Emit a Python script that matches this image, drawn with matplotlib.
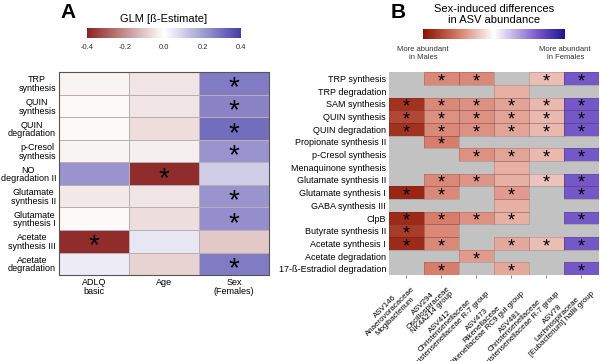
import numpy as np
import matplotlib
matplotlib.use("Agg")
import matplotlib.pyplot as plt
from matplotlib.colors import LinearSegmentedColormap, Normalize
from matplotlib.colorbar import ColorbarBase

plt.rcParams['font.family'] = ['Liberation Sans', 'DejaVu Sans']

# ---- panel A data ----
a_rows = ["TRP\nsynthesis", "QUIN\nsynthesis", "QUIN\ndegradation", "p-Cresol\nsynthesis",
          "NO\ndegradation II", "Glutamate\nsynthesis II", "Glutamate\nsynthesis I",
          "Acetate\nsynthesis III", "Acetate\ndegradation"]
a_cols = ["ADLQ\nbasic", "Age", "Sex\n(Females)"]
a_vals = np.array([
    [-0.02, -0.05, 0.27],
    [-0.01, -0.05, 0.25],
    [-0.01, -0.06, 0.30],
    [-0.02, -0.03, 0.22],
    [0.22, -0.38, 0.10],
    [-0.04, -0.05, 0.22],
    [-0.01, -0.06, 0.23],
    [-0.38, 0.05, -0.10],
    [0.04, -0.08, 0.27],
])
a_sig = np.array([
    [0, 0, 1], [0, 0, 1], [0, 0, 1], [0, 0, 1], [0, 1, 0],
    [0, 0, 1], [0, 0, 1], [1, 0, 0], [0, 0, 1],
])
a_ticks = [-0.4, -0.2, 0.0, 0.2, 0.4]

# ---- panel B data ----
b_rows = ["TRP synthesis", "TRP degradation", "SAM synthesis", "QUIN synthesis",
          "QUIN degradation", "Propionate synthesis II", "p-Cresol synthesis",
          "Menaquinone synthesis", "Glutamate synthesis II", "Glutamate synthesis I",
          "GABA synthesis III", "ClpB", "Butyrate synthesis II", "Acetate synthesis I",
          "Acetate degradation", "17-ß-Estradiol degradation"]
b_cols = ["ASV146\nAnaerovoracaceae\nMogibacterium",
          "ASV294\nOscillospiraceae\nNK4A214 group",
          "ASV412\nChristensenellaceae\nChristensenellaceae R-7 group",
          "ASV473\nRikenellaceae\nRikenellaceae RC9 gut group",
          "ASV481\nChristensenellaceae\nChristensenellaceae R-7 group",
          "ASV78\nLachnospiraceae\n[Eubacterium] hallii group"]
n = np.nan
b_vals = np.array([
    [n, -0.45, -0.45, n, -0.25, 0.62],
    [n, n, n, -0.3, n, n],
    [-0.85, -0.45, -0.42, -0.35, -0.27, 0.62],
    [-0.75, -0.42, -0.42, -0.35, -0.27, 0.62],
    [-0.85, -0.45, -0.42, -0.35, -0.27, 0.62],
    [n, -0.5, n, n, n, n],
    [n, n, -0.42, -0.35, -0.27, 0.62],
    [n, n, n, -0.3, n, n],
    [n, -0.45, -0.4, -0.3, -0.22, 0.62],
    [-0.9, -0.45, n, -0.38, n, 0.62],
    [n, n, n, -0.3, n, n],
    [-0.88, -0.5, -0.42, -0.3, n, 0.62],
    [-0.8, -0.45, n, n, n, n],
    [-0.88, -0.45, n, -0.33, -0.25, 0.62],
    [n, n, -0.38, n, n, n],
    [n, -0.5, n, -0.33, n, 0.62],
])
b_sig = np.array([
    [0, 1, 1, 0, 1, 1],
    [0, 0, 0, 0, 0, 0],
    [1, 1, 1, 1, 1, 1],
    [1, 1, 1, 1, 1, 1],
    [1, 1, 1, 1, 1, 1],
    [0, 1, 0, 0, 0, 0],
    [0, 0, 1, 1, 1, 1],
    [0, 0, 0, 0, 0, 0],
    [0, 1, 1, 0, 1, 1],
    [1, 1, 0, 1, 0, 1],
    [0, 0, 0, 0, 0, 0],
    [1, 1, 1, 1, 0, 1],
    [1, 0, 0, 0, 0, 0],
    [1, 1, 0, 1, 1, 1],
    [0, 0, 1, 0, 0, 0],
    [0, 1, 0, 1, 0, 1],
])

cmap_a = LinearSegmentedColormap.from_list("a", ["#8c2222", "#ffffff", "#463ca6"])
cmap_b = LinearSegmentedColormap.from_list(
    "b", [(0, "#8b1200"), (0.25, "#d67c6a"), (0.5, "#ffffff"), (0.8, "#7a5ccc"), (1, "#1c1490")])


def stars(ax, sig, fs):
    # asterisk glyph sits high in the em box, so drop the baseline below the cell centre
    for r, c in zip(*np.nonzero(sig)):
        ax.annotate("*", (c + 0.5, r + 0.5), xytext=(0, -0.44 * fs), textcoords="offset points",
                    ha="center", va="baseline", fontsize=fs, color="black")


fig = plt.figure(figsize=(6, 3.61), dpi=100)

# ---------------- A ----------------
axA = fig.add_axes([0.098, 0.238, 0.35, 0.562])
normA = Normalize(-0.4, 0.4)
axA.pcolormesh(a_vals, cmap=cmap_a, norm=normA, edgecolors="#b8b0b0", linewidth=0.4)
stars(axA, a_sig, 20)
axA.set_xlim(0, 3); axA.set_ylim(len(a_rows), 0)
axA.set_yticks(np.arange(len(a_rows)) + 0.5)
axA.set_yticklabels(a_rows, fontsize=6.5, linespacing=0.95, multialignment="center")
axA.set_xticks(np.arange(3) + 0.5)
axA.set_xticklabels(a_cols, fontsize=6.5, linespacing=0.95)
axA.tick_params(length=0, pad=2)
for s in axA.spines.values():
    s.set_color("#555555"); s.set_linewidth(0.8)

caxA = fig.add_axes([0.145, 0.8947, 0.257, 0.0277])
cbA = ColorbarBase(caxA, cmap=cmap_a, norm=normA, orientation="horizontal", ticks=a_ticks)
cbA.set_ticklabels([f"{t:.1f}" for t in a_ticks])
cbA.outline.set_visible(False)
caxA.tick_params(labelsize=5.5, length=0, pad=4, colors="#333333")
fig.text(0.273, 0.948, "GLM [ß-Estimate]", fontsize=8, ha="center", va="center")
fig.text(0.113, 0.965, "A", fontsize=15, fontweight="bold", ha="center", va="center")

# ---------------- B ----------------
axB = fig.add_axes([0.648, 0.238, 0.35, 0.562])
axB.set_facecolor("#c2c2c2")
normB = Normalize(-1, 1)
axB.pcolormesh(np.ma.masked_invalid(b_vals), cmap=cmap_b, norm=normB)
for r in range(len(b_rows)):
    for c in range(len(b_cols)):
        if not np.isnan(b_vals[r, c]):
            axB.add_patch(plt.Rectangle((c, r), 1, 1, fill=False, edgecolor=(0.3, 0.1, 0.1, 0.25), linewidth=0.5))
stars(axB, b_sig, 13)
axB.set_xlim(0, 6); axB.set_ylim(len(b_rows), 0)
axB.set_yticks(np.arange(len(b_rows)) + 0.5)
axB.set_yticklabels(b_rows, fontsize=6.5)
axB.set_xticks(np.arange(6) + 0.5)
axB.set_xticklabels(b_cols, fontsize=5.7, rotation=45, ha="right", rotation_mode="anchor",
                    multialignment="center", linespacing=0.95)
axB.tick_params(axis="y", length=0, pad=2)
axB.tick_params(axis="x", length=2, width=0.5, color="#555555", pad=2)
for s in axB.spines.values():
    s.set_visible(False)

caxB = fig.add_axes([0.705, 0.892, 0.237, 0.0277])
cbB = ColorbarBase(caxB, cmap=cmap_b, norm=normB, orientation="horizontal", ticks=[])
cbB.outline.set_visible(False)
fig.text(0.823, 0.96, "Sex-induced differences\nin ASV abundance", fontsize=8,
         ha="center", va="center", linespacing=1.1)
fig.text(0.705, 0.872, "More abundant\nin Males", fontsize=5.5, ha="center", va="top", color="#333333")
fig.text(0.942, 0.872, "More abundant\nin Females", fontsize=5.5, ha="center", va="top", color="#333333")
fig.text(0.663, 0.965, "B", fontsize=15, fontweight="bold", ha="center", va="center")

fig.savefig("out.png", dpi=100)
